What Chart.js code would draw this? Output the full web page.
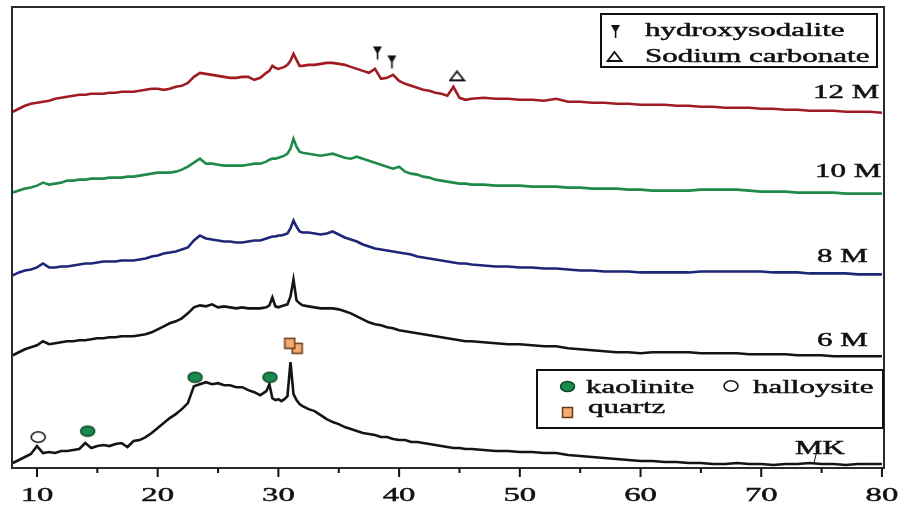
<!DOCTYPE html>
<html>
<head>
<meta charset="utf-8">
<script src="https://cdn.jsdelivr.net/npm/chart.js@4.4.1/dist/chart.umd.min.js"></script>
<style>
  body { margin: 0; background: #fff; }
  #xrd { display: block; }
</style>
</head>
<body>
<canvas id="xrd" width="904" height="508"></canvas>
<script>
// 2theta grid (finer around the quartz peak)
const twoTheta = [
  8, 8.5, 9, 9.5, 10, 10.5, 11, 11.5, 12, 12.5,
  13, 13.5, 14, 14.5, 15, 15.5, 16, 16.5, 17, 17.5,
  18, 18.5, 19, 19.5, 20, 20.5, 21, 21.5, 22, 22.5,
  23, 23.5, 24, 24.5, 25, 25.5, 26, 26.5, 27, 27.5,
  28, 28.5, 29, 29.25, 29.5, 29.75, 30, 30.25, 30.5, 30.75, 31, 31.25, 31.5, 31.75,
  32, 32.5, 33, 33.5, 34, 34.5, 35, 35.5, 36, 36.5,
  37, 37.5, 38, 38.5, 39, 39.5, 40, 40.5, 41, 41.5,
  42, 42.5, 43, 43.5, 44, 44.5, 45, 45.5, 46,
  47, 48, 49, 50, 51, 52, 53, 54, 55, 56,
  57, 58, 59, 60, 61, 62, 63, 64, 65, 66,
  67, 68, 69, 70, 71, 72, 73, 74, 75, 76, 77, 78, 79, 80
];

// intensities, already stacked (a.u.)
const mk = [
  5, 8, 11, 14, 22, 15, 16, 15, 17, 17,
  18, 19, 25, 20, 22, 23, 22, 24, 25, 21,
  27, 28, 31, 35, 40, 45, 50, 54, 59, 65,
  82, 84, 86, 84, 85, 83, 83, 81, 81, 78,
  76, 73, 77, 84, 70, 68, 69, 67, 69, 72, 106, 74, 68, 64,
  62, 59, 57, 53, 49, 46, 44, 41, 39, 37,
  35, 34, 33, 31, 31, 29, 28, 28, 26, 26,
  25, 24, 23, 22, 21, 20, 20, 19, 19,
  18, 17, 17, 16, 16, 15, 15, 13, 12, 11,
  10, 9, 8, 7, 7, 6, 6, 5, 5, 4,
  4, 5, 4, 4, 3, 4, 4, 5, 4, 4, 3, 4, 4, 4
];
const m6 = [
  113, 116, 119, 121, 123, 127, 124, 125, 126, 127,
  127, 128, 128, 129, 130, 130, 131, 131, 132, 132,
  132, 133, 134, 136, 139, 142, 145, 147, 150, 155,
  161, 163, 162, 164, 161, 162, 161, 160, 161, 160,
  160, 160, 161, 163, 171, 162, 161, 162, 163, 164, 172, 189, 168, 165,
  163, 162, 161, 160, 160, 160, 159, 157, 155, 152,
  149, 146, 144, 143, 141, 140, 138, 137, 136, 135,
  134, 133, 132, 131, 130, 129, 128, 127, 127,
  126, 125, 124, 124, 123, 122, 122, 120, 119, 118,
  117, 116, 116, 115, 116, 116, 116, 116, 115, 115,
  115, 115, 114, 114, 114, 114, 113, 113, 113, 112, 112, 112, 112, 112
];
const m8 = [
  193, 196, 198, 199, 201, 205, 201, 201, 202, 202,
  203, 204, 205, 205, 206, 207, 207, 207, 208, 208,
  208, 209, 210, 212, 213, 215, 216, 217, 219, 221,
  228, 233, 230, 229, 228, 227, 227, 226, 226, 227,
  228, 228, 230, 231, 232, 232, 233, 233, 234, 235, 240, 248, 242, 237,
  236, 236, 235, 234, 235, 237, 234, 231, 229, 227,
  224, 222, 220, 219, 218, 217, 216, 215, 214, 212,
  211, 210, 209, 208, 207, 206, 205, 205, 204,
  203, 202, 202, 201, 201, 200, 200, 199, 198, 198,
  197, 197, 197, 196, 196, 196, 196, 196, 197, 197,
  197, 197, 197, 197, 196, 196, 196, 195, 195, 195, 195, 194, 194, 194
];
const m10 = [
  276, 278, 280, 281, 283, 286, 284, 285, 286, 288,
  288, 289, 289, 290, 290, 290, 291, 291, 291, 292,
  292, 293, 294, 295, 296, 296, 296, 297, 299, 302,
  306, 310, 305, 305, 304, 303, 303, 303, 303, 304,
  305, 305, 307, 309, 310, 310, 311, 312, 313, 315, 320, 330, 322, 317,
  316, 315, 314, 313, 314, 315, 313, 311, 310, 312,
  310, 308, 306, 304, 302, 300, 302, 297, 295, 294,
  292, 291, 289, 288, 287, 286, 285, 285, 284,
  284, 283, 283, 283, 282, 282, 282, 281, 281, 280,
  280, 280, 279, 279, 278, 278, 278, 278, 279, 279,
  279, 279, 278, 277, 277, 277, 276, 276, 276, 276, 275, 275, 275, 275
];
const m12 = [
  357, 360, 363, 365, 366, 367, 368, 370, 371, 372,
  373, 374, 374, 375, 375, 375, 376, 376, 377, 377,
  377, 378, 379, 380, 380, 379, 380, 382, 383, 386,
  392, 396, 395, 394, 393, 392, 391, 391, 392, 392,
  389, 391, 396, 398, 403, 401, 400, 401, 402, 404, 408, 415, 409, 403,
  403, 404, 404, 405, 406, 406, 405, 404, 402, 400,
  398, 396, 400, 390, 391, 394, 388, 385, 383, 381,
  379, 378, 376, 375, 373, 382, 371, 369, 370,
  371, 370, 370, 369, 369, 368, 370, 367, 367, 366,
  366, 365, 365, 364, 364, 364, 363, 363, 362, 362,
  361, 361, 361, 360, 360, 359, 359, 358, 358, 358, 357, 357, 357, 356
];

const seriesNames = ['MK', '6 M', '8 M', '10 M', '12 M'];
const seriesColors = ['#141414', '#141414', '#1c2676', '#1f8a4a', '#a01c22'];

// phase markers
const kaoliniteAt = [14.2, 23.1, 29.3];
const kaoliniteY = [37, 91, 91];
const halloysiteAt = [10.1];
const halloysiteY = [31];
const quartzAt = [31.55, 30.95];
const quartzY = [120, 125];
const sodaliteAt = [38.2, 39.4];
const sodaliteY = [416, 407];
const carbonateAt = [44.8];
const carbonateY = [393];

const majorTicks = [10, 20, 30, 40, 50, 60, 70, 80];
const minorTicks = [15, 25, 35, 45, 55, 65, 75];

const serif = '"Liberation Serif", "Times New Roman", serif';
Chart.defaults.font.family = serif;

function icon(w, h, draw) {
  const c = document.createElement('canvas');
  c.width = w;
  c.height = h;
  draw(c.getContext('2d'));
  return c;
}

const kaoIcon = icon(17, 13, g => {
  g.beginPath();
  g.ellipse(8.5, 6.5, 7, 5, 0, 0, Math.PI * 2);
  g.fillStyle = '#1b8a4f';
  g.fill();
  g.lineWidth = 1.5;
  g.strokeStyle = '#0c4726';
  g.stroke();
});
const halIcon = icon(18, 14, g => {
  g.beginPath();
  g.ellipse(9, 7, 7, 5.2, 0, 0, Math.PI * 2);
  g.fillStyle = '#fff';
  g.fill();
  g.lineWidth = 1.6;
  g.strokeStyle = '#111';
  g.stroke();
});
const qzIcon = icon(13, 13, g => {
  g.fillStyle = '#f2ad72';
  g.fillRect(1.5, 1.5, 10, 10);
  g.lineWidth = 1.5;
  g.strokeStyle = '#6a3a16';
  g.strokeRect(1.5, 1.5, 10, 10);
});
const sodIcon = icon(11, 15, g => {
  g.fillStyle = '#111';
  g.beginPath();
  g.moveTo(1, 1);
  g.lineTo(10, 1);
  g.lineTo(5.5, 9);
  g.closePath();
  g.fill();
  g.fillRect(4.8, 8, 1.6, 6);
});
const carbIcon = icon(17, 13, g => {
  g.beginPath();
  g.moveTo(8.5, 2);
  g.lineTo(15.5, 11);
  g.lineTo(1.5, 11);
  g.closePath();
  g.fillStyle = '#fff';
  g.fill();
  g.lineWidth = 1.8;
  g.strokeStyle = '#111';
  g.stroke();
});

function pts(xs, ys) {
  return xs.map((v, i) => ({ x: v, y: ys[i] }));
}

function markerSet(xs, ys, img) {
  return {
    data: pts(xs, ys),
    showLine: false,
    pointStyle: img,
    pointRadius: 6,
    order: 0
  };
}

const curves = [mk, m6, m8, m10, m12].map((s, i) => ({
  label: seriesNames[i],
  data: pts(twoTheta, s),
  borderColor: seriesColors[i],
  borderWidth: 2.6,
  pointRadius: 0,
  tension: 0,
  order: 1
}));

function wideText(ctx, txt, x, y, size, align) {
  ctx.save();
  ctx.font = size + 'px ' + serif;
  ctx.textAlign = align || 'left';
  ctx.textBaseline = 'alphabetic';
  ctx.fillStyle = '#111';
  ctx.strokeStyle = '#111';
  ctx.lineWidth = 0.45;
  ctx.translate(x, y);
  ctx.scale(1.72, 1);
  ctx.fillText(txt, 0, 0);
  ctx.strokeText(txt, 0, 0);
  ctx.restore();
}

const decor = {
  id: 'decor',
  afterDraw(chart) {
    const { ctx, chartArea: a, scales: { x } } = chart;
    ctx.save();
    // frame
    ctx.strokeStyle = '#2a2a2a';
    ctx.lineWidth = 2;
    ctx.strokeRect(a.left, a.top, a.right - a.left, a.bottom - a.top);
    // ticks
    ctx.strokeStyle = '#111';
    ctx.lineWidth = 2;
    majorTicks.forEach(v => {
      const px = x.getPixelForValue(v);
      ctx.beginPath();
      ctx.moveTo(px, a.bottom);
      ctx.lineTo(px, a.bottom + 9);
      ctx.stroke();
      wideText(ctx, String(v), px, 501, 19, 'center');
    });
    minorTicks.forEach(v => {
      const px = x.getPixelForValue(v);
      ctx.beginPath();
      ctx.moveTo(px, a.bottom);
      ctx.lineTo(px, a.bottom + 5);
      ctx.stroke();
    });

    // series names
    wideText(ctx, seriesNames[4], 813, 98, 18);
    wideText(ctx, seriesNames[3], 815, 177, 18);
    wideText(ctx, seriesNames[2], 817, 262, 18);
    wideText(ctx, seriesNames[1], 817, 346, 18);
    wideText(ctx, seriesNames[0], 795, 454, 18);
    ctx.lineWidth = 1;
    ctx.beginPath();
    ctx.moveTo(818, 446);
    ctx.lineTo(814, 463);
    ctx.stroke();

    // legend boxes
    ctx.lineWidth = 2;
    ctx.strokeStyle = '#111';
    ctx.fillStyle = '#fff';
    ctx.fillRect(601, 14, 276, 53);
    ctx.strokeRect(601, 14, 276, 53);
    ctx.drawImage(sodIcon, 610, 24);
    ctx.drawImage(carbIcon, 606, 50);
    wideText(ctx, 'hydroxysodalite', 645, 36, 18);
    wideText(ctx, 'Sodium carbonate', 645, 62, 18);

    ctx.fillStyle = '#fff';
    ctx.fillRect(537, 370, 346, 58);
    ctx.strokeRect(537, 370, 346, 58);
    ctx.drawImage(kaoIcon, 559, 380);
    ctx.drawImage(halIcon, 722, 379);
    ctx.drawImage(qzIcon, 561, 406);
    wideText(ctx, 'kaolinite', 586, 393, 18);
    wideText(ctx, 'halloysite', 753, 393, 18);
    wideText(ctx, 'quartz', 588, 413, 18);
    ctx.restore();
  }
};

new Chart(document.getElementById('xrd'), {
  type: 'line',
  data: {
    datasets: [
      markerSet(halloysiteAt, halloysiteY, halIcon),
      markerSet(kaoliniteAt, kaoliniteY, kaoIcon),
      markerSet(quartzAt, quartzY, qzIcon),
      markerSet(sodaliteAt, sodaliteY, sodIcon),
      markerSet(carbonateAt, carbonateY, carbIcon),
      ...curves
    ]
  },
  options: {
    responsive: false,
    animation: false,
    devicePixelRatio: 1,
    layout: { padding: { left: 12, right: 20, top: 6, bottom: 40 } },
    plugins: { legend: { display: false }, tooltip: { enabled: false } },
    scales: {
      x: { type: 'linear', min: 7.93, max: 80.17, display: false },
      y: { min: 0, max: 462, display: false }
    }
  },
  plugins: [decor]
});
</script>
</body>
</html>
